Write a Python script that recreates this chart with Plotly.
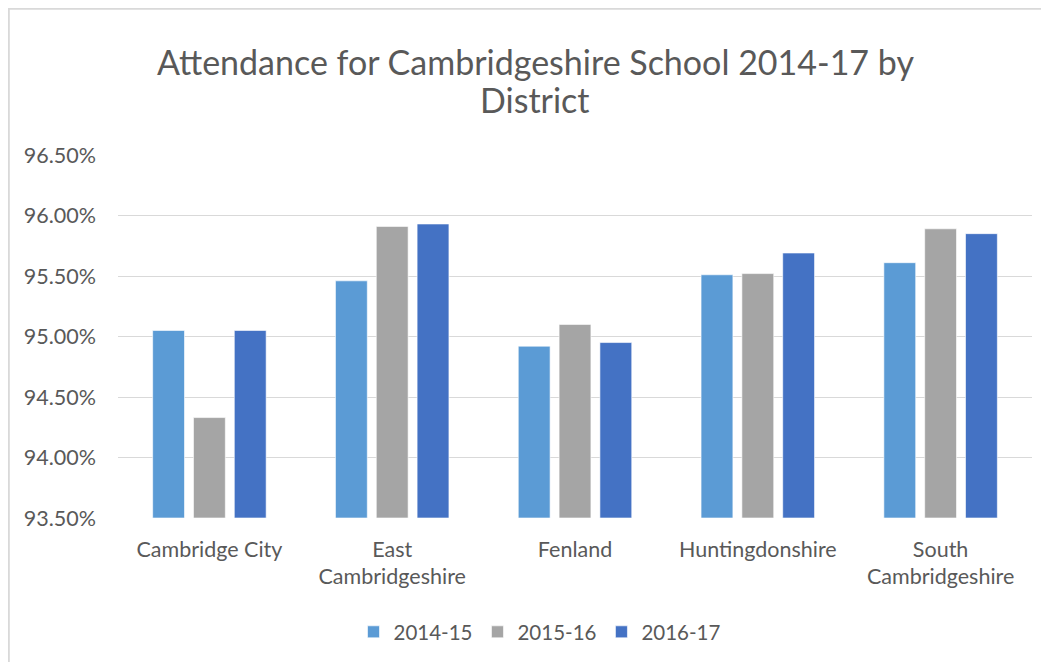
import plotly.graph_objects as go

districts = ["Cambridge City", "East<br>Cambridgeshire", "Fenland", "Huntingdonshire", "South<br>Cambridgeshire"]
series_names = ["2014-15", "2015-16", "2016-17"]
att_2014_15 = [95.05, 95.46, 94.92, 95.51, 95.61]
att_2015_16 = [94.33, 95.91, 95.10, 95.52, 95.89]
att_2016_17 = [95.05, 95.93, 94.95, 95.69, 95.85]
colors = ["#5b9bd5", "#a5a5a5", "#4472c4"]
tick_vals = [93.5, 94.0, 94.5, 95.0, 95.5, 96.0, 96.5]
tick_text = ["93.50%", "94.00%", "94.50%", "95.00%", "95.50%", "96.00%", "96.50%"]
title_lines = ["Attendance for Cambridgeshire School 2014-17 by", "District"]

FONT = "Lato"
OFF = 8  # page body margin
W, H = 1049 - OFF, 662 - OFF
# target plot box in page pixels: x 118..1032, y 155..518
L = 118 - OFF
T = 155 - OFF
R = W - (1032 - OFF)
B = H - (518 - OFF)
pw, ph = W - L - R, H - T - B

fig = go.Figure()
for name, vals, c in zip(series_names, [att_2014_15, att_2015_16, att_2016_17], colors):
    fig.add_trace(go.Bar(
        x=districts, y=[v - 93.5 for v in vals], base=93.5, name=name,
        marker=dict(color=c, line=dict(color="rgba(255,255,255,0.6)", width=1)),
    ))

def px_x(p):
    return (p - OFF - L) / pw

def px_y(p):
    return (H - B - (p - OFF)) / ph

annotations = []
for line, ypx in zip(title_lines, [62, 100]):
    annotations.append(dict(
        text=line, xref="paper", yref="paper", x=px_x(535), y=px_y(ypx),
        xanchor="center", yanchor="middle", showarrow=False,
        font=dict(family=FONT, size=34, color="#595959"),
    ))

fig.update_layout(
    width=W, height=H,
    margin=dict(l=L, r=R, t=T, b=B, autoexpand=False),
    paper_bgcolor="white", plot_bgcolor="white",
    barmode="group", bargap=0.33, bargroupgap=0.22,
    font=dict(family=FONT, color="#595959", size=21),
    annotations=annotations,
    xaxis=dict(showgrid=False, showline=False, ticks="", automargin=False,
               ticklabelstandoff=16, tickfont=dict(size=21.5, color="#595959")),
    yaxis=dict(range=[93.5, 96.5], tickvals=tick_vals, ticktext=tick_text,
               showgrid=True, gridcolor="#d9d9d9", gridwidth=1.3, zeroline=False,
               showline=False, ticks="", ticklabelstandoff=21, automargin=False,
               tickfont=dict(size=21.5, color="#595959")),
    legend=dict(orientation="h", x=px_x(540), xref="paper", xanchor="center",
                y=px_y(632), yanchor="middle",
                font=dict(size=20.5, color="#595959"), itemwidth=30, traceorder="normal"),
    shapes=[dict(type="rect", xref="paper", yref="paper",
                 x0=px_x(8.9), x1=px_x(1100), y0=px_y(700), y1=px_y(8.9),
                 line=dict(color="#d9d9d9", width=1.8), fillcolor="rgba(0,0,0,0)", layer="below")],
)
fig.write_html("out.html")
